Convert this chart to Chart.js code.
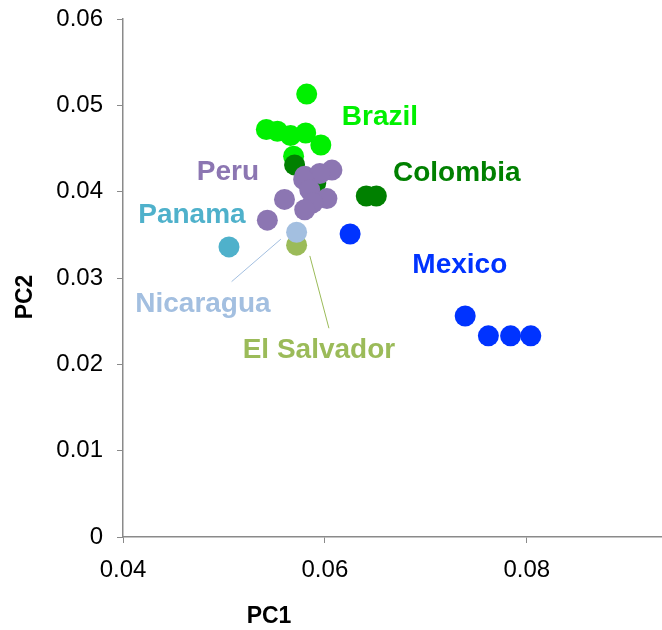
<!DOCTYPE html>
<html>
<head>
<meta charset="utf-8">
<script src="https://cdn.jsdelivr.net/npm/chart.js@4/dist/chart.umd.min.js"></script>
<style>
  body { margin: 0; background: #fff; }
  canvas { display: block; }
</style>
</head>
<body>
<canvas id="pcaChart" width="662" height="630"></canvas>
<script>
// PCA scores, one pair of arrays per country
const brazilPC1 = [0.0582, 0.0542, 0.0553, 0.0566, 0.0581, 0.0596, 0.0569];
const brazilPC2 = [0.0513, 0.0472, 0.0470, 0.0465, 0.0468, 0.0454, 0.0441];

const colombiaPC1 = [0.0570, 0.0591, 0.0641, 0.0651];
const colombiaPC2 = [0.0431, 0.0410, 0.0395, 0.0395];

const peruPC1 = [0.0607, 0.0580, 0.0595, 0.0579, 0.0585, 0.0560, 0.0602, 0.0588, 0.0580, 0.0543];
const peruPC2 = [0.0425, 0.0418, 0.0421, 0.0414, 0.0402, 0.0391, 0.0392, 0.0387, 0.0379, 0.0367];

const panamaPC1 = [0.0505];
const panamaPC2 = [0.0336];

const nicaraguaPC1 = [0.0572];
const nicaraguaPC2 = [0.0353];

const elSalvadorPC1 = [0.0572];
const elSalvadorPC2 = [0.0338];

const mexicoPC1 = [0.0625, 0.0739, 0.0762, 0.0784, 0.0804];
const mexicoPC2 = [0.0351, 0.0256, 0.0233, 0.0233, 0.0233];

// axis ranges and ticks
const xMin = 0.04, xMax = 0.0934, xStep = 0.02;
const yMin = 0, yMax = 0.06, yStep = 0.01;

const COLORS = {
    brazil: '#00f000',
    colombia: '#008000',
    peru: '#8c76b2',
    panama: '#4fb1cb',
    nicaragua: '#a3bfe0',
    elSalvador: '#9bbb59',
    mexico: '#0033ff'
};

function pts(xs, ys) {
    return xs.map((x, i) => ({ x: x, y: ys[i] }));
}

function ds(label, xs, ys, color) {
    return {
        label: label,
        data: pts(xs, ys),
        backgroundColor: color,
        borderWidth: 0,
        pointRadius: 10.5,
        pointHoverRadius: 10.5
    };
}

// country labels, placed in data units (cap-middle of the text)
const countryLabels = [
    { text: 'Brazil', x: 0.06545, y: 0.0489, color: COLORS.brazil },
    { text: 'Colombia', x: 0.07307, y: 0.0424, color: COLORS.colombia },
    { text: 'Peru', x: 0.0504, y: 0.0425, color: COLORS.peru },
    { text: 'Panama', x: 0.04683, y: 0.03754, color: COLORS.panama },
    { text: 'Nicaragua', x: 0.04792, y: 0.02723, color: COLORS.nicaragua },
    { text: 'El Salvador', x: 0.05941, y: 0.0219, color: COLORS.elSalvador },
    { text: 'Mexico', x: 0.07337, y: 0.03175, color: COLORS.mexico }
];
const leaderLines = [
    { x1: 0.05076, y1: 0.02958, x2: 0.05564, y2: 0.0345, color: COLORS.nicaragua },
    { x1: 0.05851, y1: 0.03256, x2: 0.0604, y2: 0.02418, color: COLORS.elSalvador }
];

const labelPlugin = {
    id: 'countryLabels',
    afterDatasetsDraw(chart) {
        const ctx = chart.ctx, xs = chart.scales.x, ys = chart.scales.y;
        ctx.save();
        ctx.lineWidth = 1;
        leaderLines.forEach(l => {
            ctx.strokeStyle = l.color;
            ctx.beginPath();
            ctx.moveTo(xs.getPixelForValue(l.x1), ys.getPixelForValue(l.y1));
            ctx.lineTo(xs.getPixelForValue(l.x2), ys.getPixelForValue(l.y2));
            ctx.stroke();
        });
        ctx.font = 'bold 28px "Liberation Sans", Arial, sans-serif';
        ctx.textAlign = 'center';
        ctx.textBaseline = 'alphabetic';
        countryLabels.forEach(l => {
            ctx.fillStyle = l.color;
            ctx.fillText(l.text, xs.getPixelForValue(l.x), ys.getPixelForValue(l.y) + 10);
        });
        ctx.restore();
    },
    afterDraw(chart) {
        const ctx = chart.ctx, area = chart.chartArea;
        ctx.save();
        ctx.fillStyle = '#000';
        ctx.font = 'bold 23px "Liberation Sans", Arial, sans-serif';
        ctx.textAlign = 'center';
        ctx.textBaseline = 'alphabetic';
        ctx.fillText('PC1', area.left + 146, 623);
        ctx.translate(32, (area.top + area.bottom) / 2 + 19);
        ctx.rotate(-Math.PI / 2);
        ctx.fillText('PC2', 0, 0);
        ctx.restore();
    }
};

function tickText(v) {
    return v === 0 ? '0' : Number(v).toFixed(2);
}

// no extra room for label overflow: the plot area is fixed by layout padding
function noScalePadding(scale) {
    scale.paddingTop = 0;
    scale.paddingBottom = 0;
    scale.paddingLeft = 0;
    scale.paddingRight = 0;
}

const axisGrey = '#8a8a8a';
const tickFont = { family: '"Liberation Sans", Arial, sans-serif', size: 24 };

var ctx = document.getElementById('pcaChart').getContext('2d');
var pcaChart = new Chart(ctx, {
    type: 'scatter',
    data: {
        // first dataset is drawn on top
        datasets: [
            ds('Peru', peruPC1, peruPC2, COLORS.peru),
            ds('Colombia', colombiaPC1, colombiaPC2, COLORS.colombia),
            ds('Brazil', brazilPC1, brazilPC2, COLORS.brazil),
            ds('Nicaragua', nicaraguaPC1, nicaraguaPC2, COLORS.nicaragua),
            ds('El Salvador', elSalvadorPC1, elSalvadorPC2, COLORS.elSalvador),
            ds('Panama', panamaPC1, panamaPC2, COLORS.panama),
            ds('Mexico', mexicoPC1, mexicoPC2, COLORS.mexico)
        ]
    },
    options: {
        responsive: false,
        animation: false,
        events: [],
        layout: { autoPadding: false, padding: { top: 19, right: 0, bottom: 0, left: 0 } },
        plugins: {
            legend: { display: false },
            tooltip: { enabled: false }
        },
        scales: {
            x: {
                type: 'linear',
                position: 'bottom',
                min: xMin,
                max: xMax,
                afterFit(scale) { scale.height = 93; noScalePadding(scale); },
                ticks: {
                    stepSize: xStep,
                    includeBounds: false,
                    color: '#000',
                    font: tickFont,
                    padding: 13,
                    maxRotation: 0,
                    callback: tickText
                },
                grid: { drawOnChartArea: false, drawTicks: true, tickLength: 6, color: axisGrey },
                border: { display: true, color: axisGrey, width: 1.5 }
            },
            y: {
                type: 'linear',
                min: yMin,
                max: yMax,
                afterFit(scale) { scale.width = 123; noScalePadding(scale); },
                ticks: {
                    stepSize: yStep,
                    color: '#000',
                    font: tickFont,
                    padding: 14,
                    callback: tickText
                },
                grid: { drawOnChartArea: false, drawTicks: true, tickLength: 6, color: axisGrey },
                border: { display: true, color: axisGrey, width: 1.5 }
            }
        }
    },
    plugins: [labelPlugin]
});
</script>
</body>
</html>
